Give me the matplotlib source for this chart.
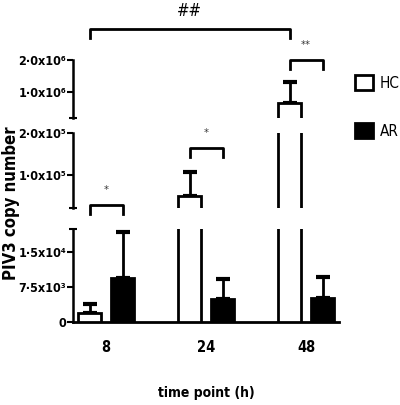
import os
import numpy as np
import matplotlib
matplotlib.use('Agg')
import matplotlib.pyplot as plt
import matplotlib.font_manager as fm
from matplotlib.lines import Line2D

plt.rcParams['font.family'] = ['Liberation Sans', 'DejaVu Sans']

# the reference uses a narrow sans; take a narrow face if one is installed
def pick(bold):
    wanted = (['LiberationSansNarrow-Bold.ttf', 'DejaVuSansCondensed-Bold.ttf'] if bold
              else ['LiberationSansNarrow-Regular.ttf', 'DejaVuSansCondensed.ttf'])
    files = {os.path.basename(f.fname): f.fname for f in fm.fontManager.ttflist}
    for w in wanted:
        if w in files:
            return fm.FontProperties(fname=files[w])
    return fm.FontProperties(family=['Liberation Sans', 'DejaVu Sans'],
                             weight='bold' if bold else 'normal')

fp_b = pick(True)
fp_r = pick(False)

def fprop(bold, size):
    p = (fp_b if bold else fp_r).copy()
    p.set_size(size)
    return p

timepoints = ['8', '24', '48']
hc_mean = [1900, 49000, 670000]
hc_err = [1950, 57000, 650000]
ar_mean = [9500, 4950, 5150]
ar_err = [9900, 4300, 4500]

# broken y axis: (low, high, ticks, ticklabels) from top to bottom
seg_top = (2e5, 2e6, [1e6, 2e6], ['1·0x10⁶', '2·0x10⁶'])
seg_mid = (2e4, 2e5, [1e5, 2e5], ['1·0x10⁵', '2·0x10⁵'])
seg_bot = (0, 2e4, [0, 7.5e3, 1.5e4], ['0', '7·5x10³', '1·5x10⁴'])

# significance brackets: (bar a, bar b, label) bars as (group, 'hc'/'ar')
brackets = [((0, 'hc'), (0, 'ar'), '*'),
            ((1, 'hc'), (1, 'ar'), '*'),
            ((2, 'hc'), (2, 'ar'), '**'),
            ((0, 'hc'), (2, 'hc'), '##')]
bracket_px = [205, 148, 60, 29]   # height of bracket line (pixels from top)

W, H = 400, 405
fig = plt.figure(figsize=(W / 100, H / 100), dpi=100)

def fy(p):
    return 1 - p / H

left, width = 73 / W, 266 / W
pos = {'top': (60, 118), 'mid': (133, 208), 'bot': (229, 322)}

x = np.arange(len(timepoints))
off, bw = 0.165, 0.23
axes = []
for name, seg in zip(['top', 'mid', 'bot'], [seg_top, seg_mid, seg_bot]):
    t, b = pos[name]
    lo, hi = seg[0], seg[1]
    ax = fig.add_axes([left, fy(b), width, (b - t) / H])
    hc = ax.bar(x - off, hc_mean, bw, facecolor='white', edgecolor='black', linewidth=2, zorder=3)
    ar = ax.bar(x + off, ar_mean, bw, facecolor='black', edgecolor='black', linewidth=2, zorder=3)
    # error bars only in the segment that holds them
    for xs, m, e in [(x - off, hc_mean, hc_err), (x + off, ar_mean, ar_err)]:
        keep = [i for i in range(len(m)) if lo < m[i] + e[i] <= hi]
        if keep:
            ax.errorbar(xs[keep], np.array(m)[keep],
                        yerr=[np.zeros(len(keep)), np.array(e)[keep]], fmt='none',
                        ecolor='black', elinewidth=2, capsize=5, capthick=3, zorder=2)
    ax.set_xlim(-0.33, 2.33)
    ax.set_ylim(lo, hi)
    ax.set_yticks(seg[2], seg[3])
    ax.set_yticks([lo, hi], minor=True)
    ax.tick_params(axis='y', which='major', direction='out', length=4, width=1.5, pad=1)
    ax.tick_params(axis='y', which='minor', direction='inout', length=6, width=1.5)
    for lab in ax.get_yticklabels():
        lab.set_fontproperties(fprop(True, 9))
    for s in ['top', 'right']:
        ax.spines[s].set_visible(False)
    ax.spines['left'].set_linewidth(1.8)
    if name != 'bot':
        ax.spines['bottom'].set_visible(False)
        ax.set_xticks([])
    else:
        ax.spines['bottom'].set_linewidth(2)
        ax.set_xticks(x, timepoints)
        ax.tick_params(axis='x', length=0, pad=13)
        for lab in ax.get_xticklabels():
            lab.set_fontproperties(fprop(True, 10.5))
    ax.patch.set_visible(False)
    axes.append(ax)

ax_bot = axes[-1]
inv = fig.transFigure.inverted()

def bar_fx(g, kind):
    xd = x[g] - off if kind == 'hc' else x[g] + off
    return inv.transform(ax_bot.transData.transform((xd, 0)))[0]

for (a, b, lab), yp in zip(brackets, bracket_px):
    x1, x2 = bar_fx(*a), bar_fx(*b)
    y1, y0 = fy(yp), fy(yp + 9)
    fig.add_artist(Line2D([x1, x1, x2, x2], [y0, y1, y1, y0], color='black', lw=2,
                          transform=fig.transFigure))
    if lab == '##':
        fig.text((x1 + x2) / 2, y1 + 18 / H, lab, ha='center', va='center',
                 fontproperties=fprop(False, 12))
    else:
        fig.text((x1 + x2) / 2, y1 + 15 / H, lab, ha='center', va='center',
                 fontproperties=fprop(False, 8), color='#333333')

fig.legend(handles=[hc, ar], labels=['HC', 'AR'], loc='center left',
           bbox_to_anchor=(355 / W, fy(107)), frameon=False, borderaxespad=0,
           borderpad=0, handlelength=1.15, handleheight=1.1, labelspacing=2.1,
           prop=fprop(False, 11), handletextpad=0.45)

fig.text(11 / W, fy(203), 'PIV3 copy number', rotation=90, ha='center', va='center',
         fontproperties=fprop(True, 12))
fig.text(206 / W, fy(393), 'time point (h)', ha='center', va='center',
         fontproperties=fprop(True, 10))

fig.savefig('out.png', dpi=100)
